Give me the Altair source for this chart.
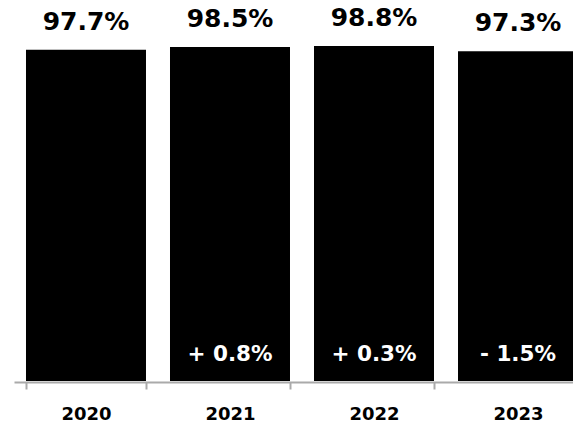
import altair as alt
import pandas as pd

years = ["2020", "2021", "2022", "2023"]
rates = [97.7, 98.5, 98.8, 97.3]
rate_labels = ["97.7%", "98.5%", "98.8%", "97.3%"]
changes = ["", "+ 0.8%", "+ 0.3%", "- 1.5%"]

df = pd.DataFrame({"year": years, "rate": rates, "label": rate_labels, "change": changes})

FONT = "DejaVu Sans"

x = alt.X(
    "year:N",
    sort=years,
    title=None,
    scale=alt.Scale(range=[0, 576], paddingInner=0.1667, paddingOuter=0.0833),
    axis=alt.Axis(
        labelAngle=0,
        labelFont=FONT,
        labelFontSize=18,
        labelFontWeight="bold",
        labelColor="black",
        labelPadding=16,
        domainColor="#aaaaaa",
        domainWidth=2,
        tickColor="#aaaaaa",
        tickWidth=2,
        tickSize=7,
        tickBand="extent",
        offset=1,
        grid=False,
    ),
)
y = alt.Y("rate:Q", scale=alt.Scale(domain=[0, 100]), axis=None)

base = alt.Chart(df)
bars = base.mark_bar(color="black").encode(x=x, y=y)
top = base.mark_text(
    font=FONT, fontSize=25, fontWeight="bold", color="black",
    baseline="alphabetic", dy=-20,
).encode(x=x, y=y, text="label:N")
inner = base.mark_text(
    font=FONT, fontSize=21.5, fontWeight="bold", color="white",
    baseline="alphabetic", dy=-20,
).encode(x=x, y=alt.datum(0), text="change:N")

chart = (
    alt.layer(bars, top, inner)
    .properties(
        width=559,
        height=339,
        autosize=alt.AutoSizeParams(type="none"),
        padding={"left": 14, "top": 42, "right": 0, "bottom": 43},
        background="white",
    )
    .configure_view(stroke=None)
)

chart.save("out.html", embed_options={"renderer": "svg", "actions": False})
